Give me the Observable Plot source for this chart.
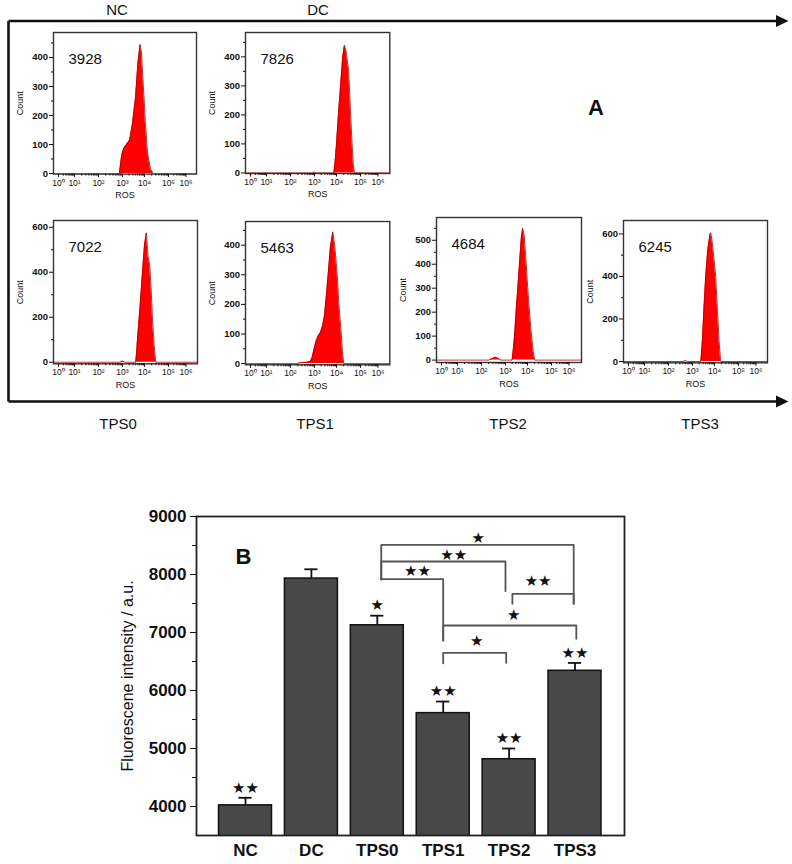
<!DOCTYPE html>
<html><head><meta charset="utf-8">
<script src="https://cdn.jsdelivr.net/npm/d3@7"></script>
<script src="https://cdn.jsdelivr.net/npm/@observablehq/plot@0.6"></script>
<style>
html,body{margin:0;padding:0;background:#fff;}
#root{position:relative;width:792px;height:864px;overflow:hidden;font-family:"Liberation Sans",Arial,sans-serif;}
#root > svg{position:absolute;}
</style></head><body><div id="root"></div>
<script>
// ---------- Panel A: flow-cytometry histograms (x = log10 ROS, y = count) ----------
const decades = [0, 1, 2, 3, 4, 5, 6];
const decadeLabels = ["10⁰", "10¹", "10²", "10³", "10⁴", "10⁵", "10⁶"];
const histNames = ["NC", "DC", "TPS0", "TPS1", "TPS2", "TPS3"];
const histMeans = [3928, 7826, 7022, 5463, 4684, 6245];

const ncHist = [[-1,0],[2.87,0],[2.93,40],[2.97,65],[3.05,85],[3.18,100],[3.32,115],[3.45,170],[3.59,260],[3.70,380],[3.80,445],[3.86,420],[3.95,300],[4.04,170],[4.13,70],[4.25,15],[4.36,0],[7,0]];
const dcHist = [[-1,0],[2.95,0],[3.0,3],[3.05,0],[3.88,0],[3.94,40],[4.0,100],[4.08,200],[4.17,300],[4.26,400],[4.33,440],[4.40,420],[4.51,350],[4.58,220],[4.65,100],[4.70,30],[4.75,0],[7,0]];
const tps0Hist = [[-1,0],[2.9,0],[3.0,5],[3.1,0],[3.6,0],[3.64,40],[3.68,100],[3.8,250],[3.91,400],[4.0,520],[4.08,575],[4.15,470],[4.22,430],[4.28,320],[4.33,200],[4.4,80],[4.47,0],[7,0]];
const tps1Hist = [[-1,0],[2.3,0],[2.42,3],[2.7,5],[2.83,8],[2.9,20],[3.0,55],[3.09,80],[3.18,95],[3.27,105],[3.36,125],[3.45,160],[3.54,230],[3.62,300],[3.72,390],[3.83,445],[3.92,400],[4.03,300],[4.1,200],[4.2,100],[4.25,40],[4.3,0],[7,0]];
const tps2Hist = [[-1,0],[2.3,0],[2.45,6],[2.58,12],[2.7,7],[2.8,0],[3.3,0],[3.35,40],[3.41,100],[3.48,200],[3.56,300],[3.65,420],[3.72,510],[3.78,550],[3.85,520],[3.93,420],[4.01,300],[4.1,180],[4.17,100],[4.24,35],[4.3,0],[7,0]];
const tps3Hist = [[-1,0],[2.6,0],[2.71,3],[2.8,0],[3.38,0],[3.45,100],[3.52,250],[3.6,400],[3.7,530],[3.8,600],[3.83,605],[3.9,560],[3.98,480],[4.05,400],[4.12,250],[4.19,100],[4.23,40],[4.26,0],[7,0]];
const histData = [ncHist, dcHist, tps0Hist, tps1Hist, tps2Hist, tps3Hist];
const histYMax = [486, 484, 630, 480, 595, 663];
const histYMin = [-2, -2, -7, -4, -10, -6];
const histYTicks = [[0,100,200,300,400],[0,100,200,300,400],[0,200,400,600],[0,100,200,300,400],[0,100,200,300,400,500],[0,200,400,600]];
const histYMinor = [[50,150,250,350,450],[50,150,250,350,450],[100,300,500],[50,150,250,350,450],[50,150,250,350,450,550],[100,300,500]];

// ---------- Panel B: bar chart ----------
const groups = ["NC", "DC", "TPS0", "TPS1", "TPS2", "TPS3"];
const means = [4020, 7930, 7125, 5610, 4815, 6340];
const errTops = [4150, 8090, 7290, 5810, 5000, 6475];
const barStars = ["★★", "", "★", "★★", "★★", "★★"];
const yMajor = [4000, 5000, 6000, 7000, 8000, 9000];
const yMinor = [4500, 5500, 6500, 7500, 8500];
// significance brackets (x in group index units, y in a.u.)
const brFrom = [2.06, 2.06, 2.06, 4.05, 3.0, 3.0];
const brTo = [4.98, 3.945, 3.0, 4.98, 5.02, 3.956];
const brY = [8510, 8224, 7919, 7667, 7121, 6650];
const brFromEnd = [7914, 7914, 7919, 7495, 6862, 6470];
const brToEnd = [7495, 7712, 6862, 7495, 6891, 6478];
const brStars = ["★", "★★", "★★", "★★", "★", "★"];
const brStarX = [3.53, 3.16, 2.61, 4.44, 4.07, 3.51];
const brStarY = [8626, 8328, 8052, 7879, 7293, 6850];

const root = document.getElementById("root");
const FONT = "Liberation Sans, Arial, Helvetica, sans-serif";

// ---------- overlay: arrows and group labels ----------
const ov = d3.select(root).append("svg").attr("width", 792).attr("height", 864).style("left", "0px").style("top", "0px");
const ink = "#111";
ov.append("path").attr("d", "M8.5,21H778 M8.5,21V401.5 M8.5,401.5H778").attr("fill", "none").attr("stroke", ink).attr("stroke-width", 2.6);
ov.append("path").attr("d", "M776,15L788.5,21L776,27Z").attr("fill", ink);
ov.append("path").attr("d", "M776,395.5L788.5,401.5L776,407.5Z").attr("fill", ink);
const topLabels = [["NC", 117, 9], ["DC", 318, 9], ["TPS0", 118, 423], ["TPS1", 315, 423], ["TPS2", 508, 423], ["TPS3", 700, 423]];
for (const [t, x, y] of topLabels) {
  ov.append("text").attr("x", x).attr("y", y).attr("text-anchor", "middle").attr("dominant-baseline", "central")
    .attr("font-family", FONT).attr("font-size", 15).attr("fill", ink).text(t);
}
ov.append("text").attr("x", 596).attr("y", 107).attr("text-anchor", "middle").attr("dominant-baseline", "central")
  .attr("font-family", FONT).attr("font-size", 22).attr("font-weight", "bold").attr("fill", ink).text("A");

// ---------- histograms ----------
const panelFrames = [
  [52.7, 31.7, 143, 141.6],
  [245, 32.3, 144.3, 141],
  [52.7, 220, 144, 143.3],
  [245, 220.7, 144.3, 143.3],
  [436, 217.3, 145, 145],
  [622.7, 220, 144, 142.3]
];
const decadePos = [5, 21, 45, 69, 91, 115, 132.5]; // pixel offsets of decades inside each frame
const minorLog = [];
for (const d of [0, 1, 2, 3, 4, 5]) for (const k of [2, 3, 4, 5, 6, 7, 8, 9]) minorLog.push(d + Math.log10(k));

histData.forEach((data, p) => {
  const [fl, ft, fw, fh] = panelFrames[p];
  const mL = 44, mT = 4, mR = 4, mB = 34;
  const chart = Plot.plot({
    width: mL + fw + mR, height: mT + fh + mB,
    marginLeft: mL, marginTop: mT, marginRight: mR, marginBottom: mB,
    style: {fontFamily: FONT, background: "transparent", color: "#111", overflow: "visible"},
    x: {type: "linear", domain: decades, range: decadePos.map(v => mL + v)},
    y: {domain: [histYMin[p], histYMax[p]]},
    marks: [
      Plot.areaY(data, {x: d => d[0], y: d => d[1], fill: "#ff0000", clip: true}),
      Plot.lineY(data, {x: d => d[0], y: d => d[1], stroke: "#b00000", strokeWidth: 0.8, clip: true}),
      Plot.frame({stroke: "#333", strokeWidth: 1.4}),
      Plot.axisY({ticks: histYTicks[p], tickSize: 4, tickPadding: 1.5, fontSize: 9.5, fontWeight: "bold", label: null, tickFormat: d => String(d)}),
      Plot.axisY({ticks: histYMinor[p], tickSize: 2, tickFormat: () => "", label: null}),
      Plot.axisX({ticks: decades, tickSize: 3.5, tickPadding: 2, fontSize: 8.5, label: null, tickFormat: d => decadeLabels[d]}),
      Plot.axisX({ticks: minorLog, tickSize: 2, tickFormat: () => "", label: null}),
      Plot.text(["Count"], {text: d => d, frameAnchor: "left", textAnchor: "middle", rotate: -90, dx: -33, fontSize: 9}),
      Plot.text(["ROS"], {text: d => d, frameAnchor: "bottom", dy: 24, fontSize: 9}),
      Plot.text([histMeans[p]], {text: d => String(d), frameAnchor: "top-left", dx: 15, dy: 21, textAnchor: "start", fontSize: 15})
    ]
  });
  chart.style.left = (fl - mL) + "px";
  chart.style.top = (ft - mT) + "px";
  root.appendChild(chart);
});

// ---------- bar chart ----------
const idx = groups.map((g, i) => i);
const bars = Plot.plot({
  width: 540, height: 374,
  marginLeft: 96, marginTop: 26, marginRight: 16, marginBottom: 29,
  style: {fontFamily: FONT, background: "transparent", color: "#111", overflow: "visible"},
  x: {type: "linear", domain: [-0.7436, 5.751]},
  y: {domain: [3500, 9000]},
  marks: [
    Plot.rectY(idx, {x1: i => i - 0.402, x2: i => i + 0.402, y1: 0, y2: i => means[i], fill: "#484848", stroke: "#111", strokeWidth: 1.5, clip: true}),
    Plot.ruleX(idx, {x: i => i, y1: i => means[i], y2: i => errTops[i], stroke: "#111", strokeWidth: 1.8}),
    Plot.ruleY(idx, {x1: i => i - 0.1, x2: i => i + 0.1, y: i => errTops[i], stroke: "#111", strokeWidth: 1.8}),
    Plot.text(idx.filter(i => barStars[i]), {x: i => i, y: i => errTops[i], text: i => barStars[i], dy: -10, fontSize: 15, fontFamily: "DejaVu Sans"}),
    Plot.line(brFrom.flatMap((f, j) => [
      {b: j, x: f, y: brFromEnd[j]}, {b: j, x: f, y: brY[j]}, {b: j, x: brTo[j], y: brY[j]}, {b: j, x: brTo[j], y: brToEnd[j]}
    ]), {x: "x", y: "y", z: "b", stroke: "#555", strokeWidth: 1.8, curve: "linear"}),
    Plot.text(brStars, {x: (d, j) => brStarX[j], y: (d, j) => brStarY[j], text: d => d, fontSize: 15, fontFamily: "DejaVu Sans"}),
    Plot.frame({stroke: "#222", strokeWidth: 1.8}),
    Plot.axisY({ticks: yMajor, tickSize: 6, tickPadding: 4, fontSize: 17, fontWeight: "bold", label: null, tickFormat: d => String(d)}),
    Plot.axisY({ticks: yMinor, tickSize: 4, tickFormat: () => "", label: null}),
    Plot.axisX({ticks: idx, tickSize: 0, tickPadding: 8, fontSize: 17, fontWeight: "bold", label: null, tickFormat: i => groups[i]}),
    Plot.text(["Fluorescene intensity / a.u."], {text: d => d, frameAnchor: "left", textAnchor: "middle", rotate: -90, dx: -69, fontSize: 16}),
    Plot.text(["B"], {text: d => d, frameAnchor: "top-left", dx: 39, dy: 32, fontSize: 22, fontWeight: "bold"})
  ]
});
bars.style.left = "100px";
bars.style.top = "490px";
root.appendChild(bars);
</script></body></html>
